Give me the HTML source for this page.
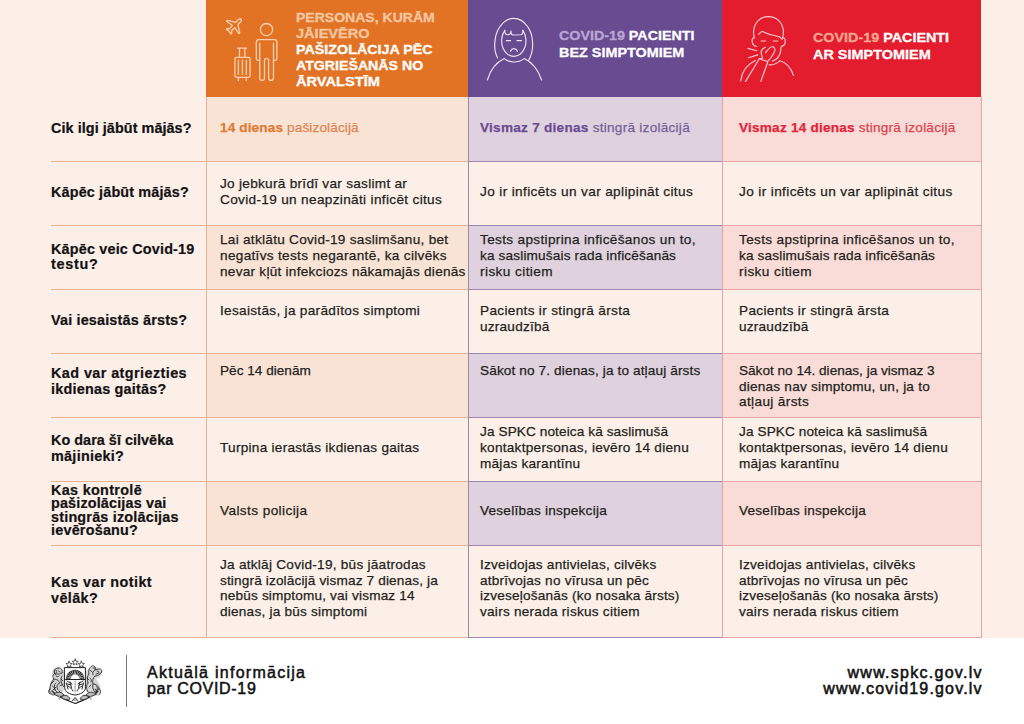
<!DOCTYPE html><html><head><meta charset="utf-8"><style>
html,body{margin:0;padding:0;}
body{width:1024px;height:724px;position:relative;overflow:hidden;background:#fbefe8;font-family:"Liberation Sans",sans-serif;}
.t{position:absolute;white-space:nowrap;}
.r{position:absolute;}
</style></head><body>
<div class="r" style="left:0;top:638px;width:1024px;height:86px;background:#fff"></div>
<div class="r" style="left:206px;top:0;width:262px;height:97px;background:#e27325"></div>
<div class="r" style="left:468px;top:0;width:254px;height:97px;background:#684b90"></div>
<div class="r" style="left:722px;top:0;width:259px;height:97px;background:#e31c2e"></div>
<div class="r" style="left:206px;top:97px;width:262px;height:64px;background:#f9e3d5"></div>
<div class="r" style="left:468px;top:97px;width:254px;height:64px;background:#dfd2de"></div>
<div class="r" style="left:722px;top:97px;width:259px;height:64px;background:#f9dcd7"></div>
<div class="r" style="left:206px;top:226px;width:262px;height:63px;background:#f9e3d5"></div>
<div class="r" style="left:468px;top:226px;width:254px;height:63px;background:#dfd2de"></div>
<div class="r" style="left:722px;top:226px;width:259px;height:63px;background:#f9dcd7"></div>
<div class="r" style="left:206px;top:354px;width:262px;height:63px;background:#f9e3d5"></div>
<div class="r" style="left:468px;top:354px;width:254px;height:63px;background:#dfd2de"></div>
<div class="r" style="left:722px;top:354px;width:259px;height:63px;background:#f9dcd7"></div>
<div class="r" style="left:206px;top:482px;width:262px;height:63px;background:#f9e3d5"></div>
<div class="r" style="left:468px;top:482px;width:254px;height:63px;background:#dfd2de"></div>
<div class="r" style="left:722px;top:482px;width:259px;height:63px;background:#f9dcd7"></div>
<div class="r" style="left:51px;top:161px;width:155px;height:1px;background:#e7b290"></div>
<div class="r" style="left:206px;top:161px;width:262px;height:1px;background:#e7b290"></div>
<div class="r" style="left:468px;top:161px;width:254px;height:1px;background:#9a89af"></div>
<div class="r" style="left:722px;top:161px;width:259px;height:1px;background:#e8a3a8"></div>
<div class="r" style="left:51px;top:225px;width:155px;height:1px;background:#e7b290"></div>
<div class="r" style="left:206px;top:225px;width:262px;height:1px;background:#e7b290"></div>
<div class="r" style="left:468px;top:225px;width:254px;height:1px;background:#9a89af"></div>
<div class="r" style="left:722px;top:225px;width:259px;height:1px;background:#e8a3a8"></div>
<div class="r" style="left:51px;top:289px;width:155px;height:1px;background:#e7b290"></div>
<div class="r" style="left:206px;top:289px;width:262px;height:1px;background:#e7b290"></div>
<div class="r" style="left:468px;top:289px;width:254px;height:1px;background:#9a89af"></div>
<div class="r" style="left:722px;top:289px;width:259px;height:1px;background:#e8a3a8"></div>
<div class="r" style="left:51px;top:353px;width:155px;height:1px;background:#e7b290"></div>
<div class="r" style="left:206px;top:353px;width:262px;height:1px;background:#e7b290"></div>
<div class="r" style="left:468px;top:353px;width:254px;height:1px;background:#9a89af"></div>
<div class="r" style="left:722px;top:353px;width:259px;height:1px;background:#e8a3a8"></div>
<div class="r" style="left:51px;top:417px;width:155px;height:1px;background:#e7b290"></div>
<div class="r" style="left:206px;top:417px;width:262px;height:1px;background:#e7b290"></div>
<div class="r" style="left:468px;top:417px;width:254px;height:1px;background:#9a89af"></div>
<div class="r" style="left:722px;top:417px;width:259px;height:1px;background:#e8a3a8"></div>
<div class="r" style="left:51px;top:481px;width:155px;height:1px;background:#e7b290"></div>
<div class="r" style="left:206px;top:481px;width:262px;height:1px;background:#e7b290"></div>
<div class="r" style="left:468px;top:481px;width:254px;height:1px;background:#9a89af"></div>
<div class="r" style="left:722px;top:481px;width:259px;height:1px;background:#e8a3a8"></div>
<div class="r" style="left:51px;top:545px;width:155px;height:1px;background:#e7b290"></div>
<div class="r" style="left:206px;top:545px;width:262px;height:1px;background:#e7b290"></div>
<div class="r" style="left:468px;top:545px;width:254px;height:1px;background:#9a89af"></div>
<div class="r" style="left:722px;top:545px;width:259px;height:1px;background:#e8a3a8"></div>
<div class="r" style="left:51px;top:637px;width:155px;height:1px;background:#e7b290"></div>
<div class="r" style="left:206px;top:637px;width:262px;height:1px;background:#e7b290"></div>
<div class="r" style="left:468px;top:637px;width:254px;height:1px;background:#9a89af"></div>
<div class="r" style="left:722px;top:637px;width:259px;height:1px;background:#e8a3a8"></div>
<div class="r" style="left:206px;top:97px;width:1px;height:541px;background:#e7b290"></div>
<div class="r" style="left:468px;top:97px;width:1px;height:541px;background:#9a89af"></div>
<div class="r" style="left:722px;top:97px;width:1px;height:541px;background:#e8a3a8"></div>
<div class="r" style="left:981px;top:97px;width:1px;height:541px;background:#e8a3a8"></div>
<div class="t" style="left:51px;top:120.00px;font-size:14.4px;line-height:16px;color:#141213;font-weight:bold;letter-spacing:0.067px;-webkit-text-stroke-width:0.2px;">Cik ilgi jābūt mājās?</div>
<div class="t" style="left:51px;top:184.00px;font-size:14.4px;line-height:16px;color:#141213;font-weight:bold;letter-spacing:0.15px;-webkit-text-stroke-width:0.2px;">Kāpēc jābūt mājās?</div>
<div class="t" style="left:51px;top:241.00px;font-size:14.4px;line-height:16px;color:#141213;font-weight:bold;letter-spacing:0.184px;-webkit-text-stroke-width:0.2px;">Kāpēc veic Covid-19</div>
<div class="t" style="left:51px;top:256.00px;font-size:14.4px;line-height:16px;color:#141213;font-weight:bold;letter-spacing:0.722px;-webkit-text-stroke-width:0.2px;">testu?</div>
<div class="t" style="left:51px;top:312.00px;font-size:14.4px;line-height:16px;color:#141213;font-weight:bold;letter-spacing:0.173px;-webkit-text-stroke-width:0.2px;">Vai iesaistās ārsts?</div>
<div class="t" style="left:51px;top:365.00px;font-size:14.4px;line-height:16px;color:#141213;font-weight:bold;letter-spacing:0.423px;-webkit-text-stroke-width:0.2px;">Kad var atgriezties</div>
<div class="t" style="left:51px;top:381.00px;font-size:14.4px;line-height:16px;color:#141213;font-weight:bold;letter-spacing:0.221px;-webkit-text-stroke-width:0.2px;">ikdienas gaitās?</div>
<div class="t" style="left:51px;top:432.00px;font-size:14.4px;line-height:16px;color:#141213;font-weight:bold;letter-spacing:0.036px;-webkit-text-stroke-width:0.2px;">Ko dara šī cilvēka</div>
<div class="t" style="left:51px;top:448.00px;font-size:14.4px;line-height:16px;color:#141213;font-weight:bold;letter-spacing:0.279px;-webkit-text-stroke-width:0.2px;">mājinieki?</div>
<div class="t" style="left:51px;top:482.00px;font-size:14.4px;line-height:16px;color:#141213;font-weight:bold;letter-spacing:0.321px;-webkit-text-stroke-width:0.2px;">Kas kontrolē</div>
<div class="t" style="left:51px;top:495.00px;font-size:14.4px;line-height:16px;color:#141213;font-weight:bold;letter-spacing:0.156px;-webkit-text-stroke-width:0.2px;">pašizolācijas vai</div>
<div class="t" style="left:51px;top:509.00px;font-size:14.4px;line-height:16px;color:#141213;font-weight:bold;letter-spacing:0.195px;-webkit-text-stroke-width:0.2px;">stingrās izolācijas</div>
<div class="t" style="left:51px;top:522.00px;font-size:14.4px;line-height:16px;color:#141213;font-weight:bold;letter-spacing:0.212px;-webkit-text-stroke-width:0.2px;">ievērošanu?</div>
<div class="t" style="left:51px;top:574.00px;font-size:14.4px;line-height:16px;color:#141213;font-weight:bold;letter-spacing:0.418px;-webkit-text-stroke-width:0.2px;">Kas var notikt</div>
<div class="t" style="left:51px;top:590.00px;font-size:14.4px;line-height:16px;color:#141213;font-weight:bold;letter-spacing:0.397px;-webkit-text-stroke-width:0.2px;">vēlāk?</div>
<div class="t" style="left:220px;top:120.00px;font-size:13.6px;line-height:16px;color:#231f20;letter-spacing:0.127px;-webkit-text-stroke-width:0.25px;"><b style="color:#e07a35">14 dienas</b> <span style="color:#dc8652">pašizolācijā</span></div>
<div class="t" style="left:480px;top:120.00px;font-size:13.6px;line-height:16px;color:#231f20;letter-spacing:0.256px;-webkit-text-stroke-width:0.25px;"><b style="color:#6a4c94">Vismaz 7 dienas</b> <span style="color:#76609b">stingrā izolācijā</span></div>
<div class="t" style="left:739px;top:120.00px;font-size:13.6px;line-height:16px;color:#231f20;letter-spacing:0.216px;-webkit-text-stroke-width:0.25px;"><b style="color:#e2263a">Vismaz 14 dienas</b> <span style="color:#e0424f">stingrā izolācijā</span></div>
<div class="t" style="left:220px;top:176.00px;font-size:13.6px;line-height:16px;color:#231f20;letter-spacing:0.287px;-webkit-text-stroke-width:0.25px;">Jo jebkurā brīdī var saslimt ar</div>
<div class="t" style="left:220px;top:192.00px;font-size:13.6px;line-height:16px;color:#231f20;letter-spacing:0.335px;-webkit-text-stroke-width:0.25px;">Covid-19 un neapzināti inficēt citus</div>
<div class="t" style="left:480px;top:184.00px;font-size:13.6px;line-height:16px;color:#231f20;letter-spacing:0.368px;-webkit-text-stroke-width:0.25px;">Jo ir inficēts un var aplipināt citus</div>
<div class="t" style="left:739px;top:184.00px;font-size:13.6px;line-height:16px;color:#231f20;letter-spacing:0.381px;-webkit-text-stroke-width:0.25px;">Jo ir inficēts un var aplipināt citus</div>
<div class="t" style="left:220px;top:232.00px;font-size:13.6px;line-height:16px;color:#231f20;letter-spacing:0.278px;-webkit-text-stroke-width:0.25px;">Lai atklātu Covid-19 saslimšanu, bet</div>
<div class="t" style="left:220px;top:248.00px;font-size:13.6px;line-height:16px;color:#231f20;letter-spacing:0.318px;-webkit-text-stroke-width:0.25px;">negatīvs tests negarantē, ka cilvēks</div>
<div class="t" style="left:220px;top:264.00px;font-size:13.6px;line-height:16px;color:#231f20;letter-spacing:0.261px;-webkit-text-stroke-width:0.25px;">nevar kļūt infekciozs nākamajās dienās</div>
<div class="t" style="left:480px;top:232.00px;font-size:13.6px;line-height:16px;color:#231f20;letter-spacing:0.337px;-webkit-text-stroke-width:0.25px;">Tests apstiprina inficēšanos un to,</div>
<div class="t" style="left:480px;top:248.00px;font-size:13.6px;line-height:16px;color:#231f20;letter-spacing:0.158px;-webkit-text-stroke-width:0.25px;">ka saslimušais rada inficēšanās</div>
<div class="t" style="left:480px;top:264.00px;font-size:13.6px;line-height:16px;color:#231f20;letter-spacing:0.420px;-webkit-text-stroke-width:0.25px;">risku citiem</div>
<div class="t" style="left:739px;top:232.00px;font-size:13.6px;line-height:16px;color:#231f20;letter-spacing:0.337px;-webkit-text-stroke-width:0.25px;">Tests apstiprina inficēšanos un to,</div>
<div class="t" style="left:739px;top:248.00px;font-size:13.6px;line-height:16px;color:#231f20;letter-spacing:0.158px;-webkit-text-stroke-width:0.25px;">ka saslimušais rada inficēšanās</div>
<div class="t" style="left:739px;top:264.00px;font-size:13.6px;line-height:16px;color:#231f20;letter-spacing:0.420px;-webkit-text-stroke-width:0.25px;">risku citiem</div>
<div class="t" style="left:220px;top:303.00px;font-size:13.6px;line-height:16px;color:#231f20;letter-spacing:0.306px;-webkit-text-stroke-width:0.25px;">Iesaistās, ja parādītos simptomi</div>
<div class="t" style="left:480px;top:303.00px;font-size:13.6px;line-height:16px;color:#231f20;letter-spacing:0.327px;-webkit-text-stroke-width:0.25px;">Pacients ir stingrā ārsta</div>
<div class="t" style="left:480px;top:319.00px;font-size:13.6px;line-height:16px;color:#231f20;letter-spacing:0.226px;-webkit-text-stroke-width:0.25px;">uzraudzībā</div>
<div class="t" style="left:739px;top:303.00px;font-size:13.6px;line-height:16px;color:#231f20;letter-spacing:0.327px;-webkit-text-stroke-width:0.25px;">Pacients ir stingrā ārsta</div>
<div class="t" style="left:739px;top:319.00px;font-size:13.6px;line-height:16px;color:#231f20;letter-spacing:0.226px;-webkit-text-stroke-width:0.25px;">uzraudzībā</div>
<div class="t" style="left:220px;top:363.00px;font-size:13.6px;line-height:16px;color:#231f20;letter-spacing:0.009px;-webkit-text-stroke-width:0.25px;">Pēc 14 dienām</div>
<div class="t" style="left:480px;top:363.00px;font-size:13.6px;line-height:16px;color:#231f20;letter-spacing:0.130px;-webkit-text-stroke-width:0.25px;">Sākot no 7. dienas, ja to atļauj ārsts</div>
<div class="t" style="left:739px;top:363.00px;font-size:13.6px;line-height:16px;color:#231f20;letter-spacing:-0.004px;-webkit-text-stroke-width:0.25px;">Sākot no 14. dienas, ja vismaz 3</div>
<div class="t" style="left:739px;top:379.00px;font-size:13.6px;line-height:16px;color:#231f20;letter-spacing:0.218px;-webkit-text-stroke-width:0.25px;">dienas nav simptomu, un, ja to</div>
<div class="t" style="left:739px;top:394.00px;font-size:13.6px;line-height:16px;color:#231f20;letter-spacing:0.370px;-webkit-text-stroke-width:0.25px;">atļauj ārsts</div>
<div class="t" style="left:220px;top:440.00px;font-size:13.6px;line-height:16px;color:#231f20;letter-spacing:0.269px;-webkit-text-stroke-width:0.25px;">Turpina ierastās ikdienas gaitas</div>
<div class="t" style="left:480px;top:424.00px;font-size:13.6px;line-height:16px;color:#231f20;letter-spacing:0.107px;-webkit-text-stroke-width:0.25px;">Ja SPKC noteica kā saslimušā</div>
<div class="t" style="left:480px;top:440.00px;font-size:13.6px;line-height:16px;color:#231f20;letter-spacing:0.272px;-webkit-text-stroke-width:0.25px;">kontaktpersonas, ievēro 14 dienu</div>
<div class="t" style="left:480px;top:456.00px;font-size:13.6px;line-height:16px;color:#231f20;letter-spacing:0.242px;-webkit-text-stroke-width:0.25px;">mājas karantīnu</div>
<div class="t" style="left:739px;top:424.00px;font-size:13.6px;line-height:16px;color:#231f20;letter-spacing:0.107px;-webkit-text-stroke-width:0.25px;">Ja SPKC noteica kā saslimušā</div>
<div class="t" style="left:739px;top:440.00px;font-size:13.6px;line-height:16px;color:#231f20;letter-spacing:0.272px;-webkit-text-stroke-width:0.25px;">kontaktpersonas, ievēro 14 dienu</div>
<div class="t" style="left:739px;top:456.00px;font-size:13.6px;line-height:16px;color:#231f20;letter-spacing:0.242px;-webkit-text-stroke-width:0.25px;">mājas karantīnu</div>
<div class="t" style="left:220px;top:503.00px;font-size:13.6px;line-height:16px;color:#231f20;letter-spacing:0.411px;-webkit-text-stroke-width:0.25px;">Valsts policija</div>
<div class="t" style="left:480px;top:503.00px;font-size:13.6px;line-height:16px;color:#231f20;letter-spacing:0.225px;-webkit-text-stroke-width:0.25px;">Veselības inspekcija</div>
<div class="t" style="left:739px;top:503.00px;font-size:13.6px;line-height:16px;color:#231f20;letter-spacing:0.225px;-webkit-text-stroke-width:0.25px;">Veselības inspekcija</div>
<div class="t" style="left:220px;top:557.00px;font-size:13.6px;line-height:16px;color:#231f20;letter-spacing:0.259px;-webkit-text-stroke-width:0.25px;">Ja atklāj Covid-19, būs jāatrodas</div>
<div class="t" style="left:220px;top:573.00px;font-size:13.6px;line-height:16px;color:#231f20;letter-spacing:0.150px;-webkit-text-stroke-width:0.25px;">stingrā izolācijā vismaz 7 dienas, ja</div>
<div class="t" style="left:220px;top:588.00px;font-size:13.6px;line-height:16px;color:#231f20;letter-spacing:0.177px;-webkit-text-stroke-width:0.25px;">nebūs simptomu, vai vismaz 14</div>
<div class="t" style="left:220px;top:604.00px;font-size:13.6px;line-height:16px;color:#231f20;letter-spacing:0.225px;-webkit-text-stroke-width:0.25px;">dienas, ja būs simptomi</div>
<div class="t" style="left:480px;top:557.00px;font-size:13.6px;line-height:16px;color:#231f20;letter-spacing:0.240px;-webkit-text-stroke-width:0.25px;">Izveidojas antivielas, cilvēks</div>
<div class="t" style="left:480px;top:573.00px;font-size:13.6px;line-height:16px;color:#231f20;letter-spacing:0.219px;-webkit-text-stroke-width:0.25px;">atbrīvojas no vīrusa un pēc</div>
<div class="t" style="left:480px;top:588.00px;font-size:13.6px;line-height:16px;color:#231f20;letter-spacing:0.199px;-webkit-text-stroke-width:0.25px;">izveseļošanās (ko nosaka ārsts)</div>
<div class="t" style="left:480px;top:604.00px;font-size:13.6px;line-height:16px;color:#231f20;letter-spacing:0.250px;-webkit-text-stroke-width:0.25px;">vairs nerada riskus citiem</div>
<div class="t" style="left:739px;top:557.00px;font-size:13.6px;line-height:16px;color:#231f20;letter-spacing:0.240px;-webkit-text-stroke-width:0.25px;">Izveidojas antivielas, cilvēks</div>
<div class="t" style="left:739px;top:573.00px;font-size:13.6px;line-height:16px;color:#231f20;letter-spacing:0.219px;-webkit-text-stroke-width:0.25px;">atbrīvojas no vīrusa un pēc</div>
<div class="t" style="left:739px;top:588.00px;font-size:13.6px;line-height:16px;color:#231f20;letter-spacing:0.199px;-webkit-text-stroke-width:0.25px;">izveseļošanās (ko nosaka ārsts)</div>
<div class="t" style="left:739px;top:604.00px;font-size:13.6px;line-height:16px;color:#231f20;letter-spacing:0.250px;-webkit-text-stroke-width:0.25px;">vairs nerada riskus citiem</div>
<div class="t" style="left:296px;top:10.00px;font-size:13.2px;line-height:16px;color:#f6c6a2;font-weight:bold;transform:scaleX(1.0635);transform-origin:0 0;-webkit-text-stroke-width:0.3px;">PERSONAS, KURĀM</div>
<div class="t" style="left:296px;top:26.00px;font-size:13.2px;line-height:16px;color:#f6c6a2;font-weight:bold;transform:scaleX(1.1034);transform-origin:0 0;-webkit-text-stroke-width:0.3px;">JĀIEVĒRO</div>
<div class="t" style="left:296px;top:42.00px;font-size:13.2px;line-height:16px;color:#fff;font-weight:bold;transform:scaleX(1.0847);transform-origin:0 0;-webkit-text-stroke-width:0.3px;">PAŠIZOLĀCIJA PĒC</div>
<div class="t" style="left:296px;top:58.00px;font-size:13.2px;line-height:16px;color:#fff;font-weight:bold;transform:scaleX(1.0738);transform-origin:0 0;-webkit-text-stroke-width:0.3px;">ATGRIEŠANĀS NO</div>
<div class="t" style="left:296px;top:74.00px;font-size:13.2px;line-height:16px;color:#fff;font-weight:bold;transform:scaleX(1.1094);transform-origin:0 0;-webkit-text-stroke-width:0.3px;">ĀRVALSTĪM</div>
<div class="t" style="left:559px;top:28.00px;font-size:13.2px;line-height:16px;color:#fff;font-weight:bold;transform:scaleX(1.0831);transform-origin:0 0;-webkit-text-stroke-width:0.3px;"><span style="color:#b9a6d3">COVID-19</span> PACIENTI</div>
<div class="t" style="left:559px;top:45.00px;font-size:13.2px;line-height:16px;color:#fff;font-weight:bold;transform:scaleX(1.0915);transform-origin:0 0;-webkit-text-stroke-width:0.3px;">BEZ SIMPTOMIEM</div>
<div class="t" style="left:813px;top:30.00px;font-size:13.2px;line-height:16px;color:#fff;font-weight:bold;transform:scaleX(1.0883);transform-origin:0 0;-webkit-text-stroke-width:0.3px;"><span style="color:#f6a490">COVID-19</span> PACIENTI</div>
<div class="t" style="left:813px;top:47.00px;font-size:13.2px;line-height:16px;color:#fff;font-weight:bold;transform:scaleX(1.0952);transform-origin:0 0;-webkit-text-stroke-width:0.3px;">AR SIMPTOMIEM</div>
<div class="r" style="left:126px;top:655px;width:1px;height:52px;background:#777"></div>
<div class="t" style="left:147px;top:664.00px;font-size:16px;line-height:18px;color:#111;letter-spacing:1.268px;-webkit-text-stroke-width:0.5px;">Aktuālā informācija</div>
<div class="t" style="left:147px;top:680.00px;font-size:16px;line-height:18px;color:#111;letter-spacing:0.675px;-webkit-text-stroke-width:0.5px;">par COVID-19</div>
<div class="t" style="left:847.5px;top:664.00px;font-size:16px;line-height:18px;color:#111;letter-spacing:1.272px;-webkit-text-stroke-width:0.55px;">www.spkc.gov.lv</div>
<div class="t" style="left:823.2px;top:680.00px;font-size:16px;line-height:18px;color:#111;letter-spacing:1.168px;-webkit-text-stroke-width:0.55px;">www.covid19.gov.lv</div>
<svg class="r" style="left:0;top:0" width="1024" height="100" viewBox="0 0 1024 100" fill="none" stroke-linecap="round" stroke-linejoin="round">
<g stroke="#fbd0b0" stroke-width="1.3">
<path transform="translate(241,19.2) rotate(45)" d="M0 0 C1.1 0 1.6 1 1.6 2.4 L1.6 6 L8.4 10.2 C9.1 10.7 9 11.7 8.3 11.6 L1.6 10.4 L1.4 14.6 L3.2 16.4 C3.6 16.9 3.3 17.6 2.8 17.5 L0 16.9 L-2.8 17.5 C-3.3 17.6 -3.6 16.9 -3.2 16.4 L-1.4 14.6 L-1.6 10.4 L-8.3 11.6 C-9 11.7 -9.1 10.7 -8.4 10.2 L-1.6 6 L-1.6 2.4 C-1.6 1 -1.1 0 0 0 Z"/>
<circle cx="266.5" cy="29.6" r="6.1"/>
<path d="M259.7 60.3 H257.8 Q256.3 60.3 256.3 58.8 V42.2 Q256.3 39.6 258.9 39.6 H274.3 Q276.9 39.6 276.9 42.2 V58.8 Q276.9 60.3 275.4 60.3 H273.5"/>
<path d="M259.7 43.2 V78 A2.4 2.4 0 0 0 264.5 78 V60.4 A2.05 2.05 0 0 1 268.6 60.4 V78 A2.45 2.45 0 0 0 273.5 78 V43.2"/>
<rect x="234.9" y="57.3" width="15.2" height="20.1" rx="1.8"/>
<path d="M237.5 48.2 H246.5 M239.5 48.2 V57.3 M244.8 48.2 V57.3 M238.4 60.2 V74.4 M242.4 60.2 V74.4 M246.3 60.2 V74.4 M238.4 77.4 V80.4 M246.3 77.4 V80.4"/>
</g>
<g stroke="#efe6f3" stroke-width="1.15">
<path d="M497.6 57.9 C493.3 50.5 493.6 35.5 500 26.5 C504 21 508.8 18.3 513.8 18.3 C518.8 18.3 523.6 21 527.6 26.5 C534 35.5 534.3 50.5 528.7 60.2"/>
<path d="M504.8 30.4 C501.2 35 500.8 43 503 48 C505.5 53.6 509.5 56.3 513.8 56.3 C518.1 56.3 522.1 53.6 524.6 48 C526.8 43 526.4 35 522.8 30.4"/>
<path d="M504.8 30.4 C504.4 33.3 505.8 34.7 508 34.7 C510.2 34.7 511 33 511 31 C511 33.6 511.6 35 513.2 35 L520.8 34.8 C522.4 34.6 523 32.4 522.8 30.4"/>
<path d="M506.3 40.6 H510.6 M517 40.6 H521.6"/>
<path d="M510.5 51.3 C511.3 49.5 512.5 48.6 513.9 48.6 C515.3 48.6 516.6 49.5 517.5 51.3"/>
<path d="M487.4 80 C490 71 496 62.5 504.3 58.6 C507 61 510 62 513.8 62 C517.6 62 521 61 524.2 58.6 C532.4 62.5 538.6 71 541.6 80"/>
</g>
<g stroke="#f8c9cd" stroke-width="1.15">
<path d="M754.3 37.8 C753.6 35 753.4 33 753.6 31 C754.6 22 760.5 16.6 768.5 16.6 C776.5 16.6 782.4 22 783.4 31 C783.5 33 783.3 35 782.6 37.8"/>
<path d="M754.3 37.8 C751.2 37.3 750.8 45.6 756.8 46.5"/>
<path d="M782.6 37.8 C786.5 37.3 786.2 45.5 781.4 46.4 C780.6 48 780.7 49.8 780.7 50.6 C780.2 56 776.5 59.6 772.3 61.1"/>
<path d="M758.5 34.4 L761.9 31.3 C767 34 773 35.8 778.8 36.5 L782.3 39.3"/>
<path d="M761.2 41 H765.7 M773.3 41 H777.8"/>
<path d="M748.1 48.4 L756.8 50.7 M748.4 57.7 L757.7 54.9"/>
<path d="M765.5 47.2 C762.5 48.5 760.8 50.5 761.1 52.8 C761.4 55 762.6 56.5 762.4 58.3 L759.3 58.7 L767.4 61.5 L768.3 60.8 C771 57.5 774 54 774.8 50.9 C775.4 47.8 773.4 46.6 771.8 46.7 C770 46.8 768 49.5 765.5 52.7"/>
<path d="M759.3 58.7 L745.6 81.4 M767.6 62.5 L760.8 81.4"/>
<path d="M755.5 60.5 C747.5 64 742 71.5 740.6 81"/>
<path d="M769.2 64.9 C773.5 64.8 777 63.5 779.8 60.8 C786 62.5 791 68 793.5 75.4"/>
</g>
</svg>
<svg class="r" style="left:40px;top:650px" width="70" height="60" viewBox="40 650 70 60" fill="none" stroke-linejoin="round" stroke-linecap="round">
<g stroke="#333" stroke-width="0.75">
<path d="M69.10 661.20 L69.98 663.29 L72.24 663.48 L70.53 664.96 L71.04 667.17 L69.10 666.00 L67.16 667.17 L67.67 664.96 L65.96 663.48 L68.22 663.29ZM75.20 659.00 L76.08 661.09 L78.34 661.28 L76.63 662.76 L77.14 664.97 L75.20 663.80 L73.26 664.97 L73.77 662.76 L72.06 661.28 L74.32 661.09ZM81.30 661.20 L82.18 663.29 L84.44 663.48 L82.73 664.96 L83.24 667.17 L81.30 666.00 L79.36 667.17 L79.87 664.96 L78.16 663.48 L80.42 663.29Z" fill="#fff"/>
</g>
<g fill="#8a8a8a" stroke="none">
<path d="M55 668 C51 670 52 675 53 678 C50 682 48 688 49 693 C51 696 56 697 60 695 C63 693 64 690 64 686 L64 672 C62 668 58 667 55 668 Z" opacity="0.35"/>
<path d="M95 667 C99 667 103 670 102 674 C101 677 98 678 96 679 C99 682 101 687 101 692 C99 696 94 697 90 695 C87 693 86 690 86 686 L86 672 C88 668 92 666 95 667 Z" opacity="0.35"/>
</g>
<g stroke="#262626" stroke-width="0.85">
<path d="M58 668 C55 668 53 671 55 673 C53 674 52 677 54 679 C51 682 50 686 50 689 C49 691 50 694 53 695 M58 668 C61 667 63 670 62 673 M55 673 C57 675 60 674 62 673 M54 679 C57 679 59 681 60 683 C57 684 56 687 58 690 M62 676 C60 680 61 684 64 687 M56 683 C53 685 54 690 57 692 M50 689 C48 690 48 693 50 694"/>
<path d="M58.5 671 L60 672 M56 676 C57 677 58 677 59 676 M52.5 686 C54 687 55 688 55 690 M51 684 L54 681 M57 670 C56 671 56 672 57 673 M60 686 L63 684 M53 690 L56 687 M55 670 C54 672 54 674 56 675 M61 679 L63 681 M57 694 L60 691"/>
<path d="M92 666 C94 665 96 667 95 670 C98 669 101 668 102 671 C101 674 98 676 95 676 C93 678 92 681 93 684 C96 684 99 686 99 689 C101 690 101 693 99 695 M92 666 C89 668 88 671 89 674 C87 676 87 680 88 683 M95 670 C93 671 92 673 93 675 M88 683 C86 685 86 689 88 692 M93 684 C92 687 93 690 95 692 M99 689 C96 690 95 692 96 694"/>
<path d="M97 671 L99 672 M90 678 C91 679 92 680 91 682 M96 686 C97 687 98 688 97 690 M99 673 L96 674 M90 670 L92 672 M89 687 L91 685 M97 692 L95 689 M93 668 L95 668 M89 680 L87 678"/>
<path d="M52 691 C57 697 66 700 75.1 703.5 C84 700 93 697 98 691" stroke-width="1.2"/>
<path d="M54 694 C58 691 62 692 64 695 C62 697 58 697 54 694 M61 697 C65 694 68 695 70 699 C67 700 64 700 61 697 M96 694 C92 691 88 692 86 695 C88 697 92 697 96 694 M89 697 C85 694 82 695 80 699 C83 700 86 700 89 697 M72 701 L75.1 697.5 L78 701" fill="#bbb"/>
</g>
<g stroke="#1f1f1f" stroke-width="1">
<path d="M64.7 667.6 H85.4 V688 C85.4 692 80 694.5 75.1 695 C70 694.5 64.7 692 64.7 688 Z" fill="#fff"/>
<path d="M65.5 679.5 H84.6"/>
</g>
<g fill="#1f1f1f"><path d="M70.71 678.78 L65.90 678.76 L66.11 677.03 L70.78 678.17Z"/><path d="M70.89 677.73 L66.23 676.57 L66.85 674.94 L71.11 677.16Z"/><path d="M71.31 676.76 L67.07 674.52 L68.06 673.08 L71.66 676.25Z"/><path d="M71.96 675.92 L68.37 672.72 L69.68 671.57 L72.42 675.51Z"/><path d="M72.79 675.26 L70.07 671.30 L71.62 670.48 L73.33 674.97Z"/><path d="M73.75 674.81 L72.06 670.32 L73.76 669.90 L74.35 674.66Z"/><path d="M74.79 674.61 L74.23 669.84 L75.97 669.84 L75.41 674.61Z"/><path d="M75.85 674.66 L76.44 669.90 L78.14 670.32 L76.45 674.81Z"/><path d="M76.87 674.97 L78.58 670.48 L80.13 671.30 L77.41 675.26Z"/><path d="M77.78 675.51 L80.52 671.57 L81.83 672.72 L78.24 675.92Z"/><path d="M78.54 676.25 L82.14 673.08 L83.13 674.52 L78.89 676.76Z"/><path d="M79.09 677.16 L83.35 674.94 L83.97 676.57 L79.31 677.73Z"/><path d="M79.42 678.17 L84.09 677.03 L84.30 678.76 L79.49 678.78Z"/></g>
<g stroke="#2a2a2a" stroke-width="1">
<path d="M67 681 C69 683 71 682 72 684 M70 682 L71.5 688 M68 686 C70 687 72 689 73 691 M66.5 683 L68 689 M67.5 684 L71 685"/>
<path d="M83 681 C81 683 79 682 78 684 M80 682 L78.5 688 M82 686 C80 687 78 689 77 691 M83.5 683 L82 689 M82.5 684 L79 685"/>
<path d="M75.1 681 V692" stroke="#999"/>
</g>
<g stroke="#aaa" stroke-width="1.2"><path d="M59.4 695.5 V699.5 M90.9 695.5 V699.5"/></g>
</svg>
</body></html>
